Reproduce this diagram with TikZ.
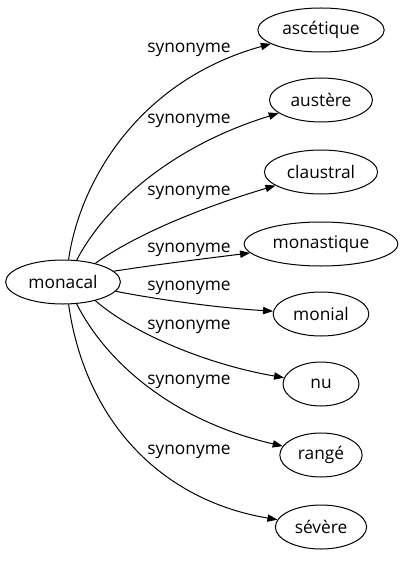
\documentclass[tikz,border=0pt]{standalone}
\usepackage{fontspec}
\setmainfont{Open Sans}
\usetikzlibrary{shapes.geometric,arrows.meta}

\tikzset{
  mot/.style={draw,ellipse,line width=0.75pt,inner xsep=4.5pt,inner ysep=0pt,minimum width=57pt,minimum height=33pt,font=\fontsize{13}{16}\selectfont},
  syn/.style={font=\fontsize{13}{16}\selectfont,inner sep=0pt},
  lien/.style={line width=0.75pt,-{Triangle[length=7.5pt,width=5.5pt]}}
}

\begin{document}
\begin{tikzpicture}[x=0.75pt,y=-0.75pt]

\useasboundingbox (0,0) rectangle (400,563) ;

\node[mot] (monacal) at (63,282) {monacal} ;

\node[mot] (ascetique) at (321,30) {ascétique} ;
\node[mot] (austere) at (321,100) {austère} ;
\node[mot] (claustral) at (321,172) {claustral} ;
\node[mot] (monastique) at (321,244) {monastique} ;
\node[mot] (monial) at (321,314) {monial} ;
\node[mot] (nu) at (321,384) {nu} ;
\node[mot] (range) at (321,455) {rangé} ;
\node[mot] (severe) at (321,527) {sévère} ;

\draw[lien] (monacal.76) .. controls (80,180) and (140,80) .. (ascetique) ;
\draw[lien] (monacal.58) .. controls (100,215) and (160,150) .. (austere) ;
\draw[lien] (monacal.30) .. controls (135,235) and (200,208) .. (claustral) ;
\draw[lien] (monacal.12) .. controls (160,264) and (210,258) .. (monastique) ;
\draw[lien] (monacal.-10) .. controls (160,300) and (220,308) .. (monial) ;
\draw[lien] (monacal.-30) .. controls (135,335) and (210,365) .. (nu) ;
\draw[lien] (monacal.-58) .. controls (105,360) and (170,420) .. (range) ;
\draw[lien] (monacal.-76) .. controls (85,420) and (160,500) .. (severe) ;

\node[syn] (l1) at (189,50) {synonyme} ;
\node[syn] (l2) at (189,121) {synonyme} ;
\node[syn] (l3) at (189,193) {synonyme} ;
\node[syn] (l4) at (189,250) {synonyme} ;
\node[syn] (l5) at (189,288) {synonyme} ;
\node[syn] (l6) at (189,327) {synonyme} ;
\node[syn] (l7) at (189,382) {synonyme} ;
\node[syn] (l8) at (189,452) {synonyme} ;

\end{tikzpicture}
\end{document}
